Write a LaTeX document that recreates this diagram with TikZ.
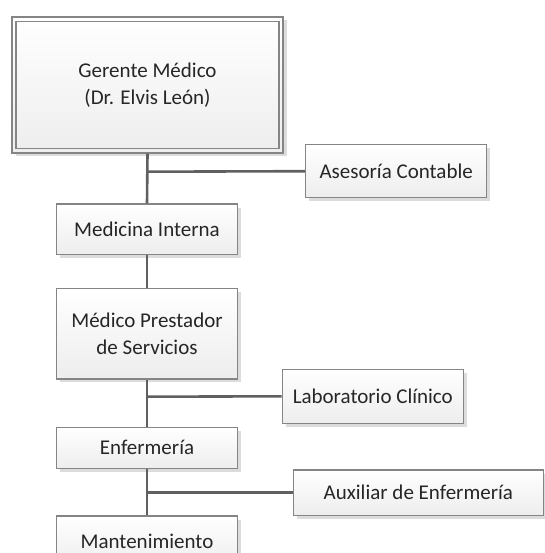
\documentclass[tikz,border=0pt]{standalone}
\usepackage{fontspec}
\setmainfont{Carlito}
\usetikzlibrary{shadows}
\definecolor{boxline}{HTML}{858585}
\definecolor{conn}{HTML}{606060}
\definecolor{shad}{HTML}{DCDCDC}
\begin{document}
\begin{tikzpicture}[x=1pt,y=-1pt,
  orgbox/.style={draw=boxline, line width=1.2pt, top color=white, bottom color=black!7,
    drop shadow={shadow xshift=3.5pt, shadow yshift=-3.5pt, fill=shad, opacity=1},
    align=center, inner sep=0pt, text=black!85,
    font=\fontsize{21}{27}\selectfont},
  conline/.style={draw=conn, line width=2.6pt}]
\useasboundingbox (0,0) rectangle (544,553);
% top box with double border
\node[orgbox, minimum width=271pt, minimum height=136pt] (ger) at (147.5,85) {};
\node[draw=boxline, line width=1.2pt, minimum width=263pt, minimum height=127pt, inner sep=0pt,
  align=center, text=black!85, font=\fontsize{21}{27}\selectfont] (gerin) at (147.5,85)
  {Gerente Médico\\(Dr. Elvis León)};
\node[orgbox, minimum width=181pt, minimum height=53pt] (ase) at (396.2,171.2) {Asesoría Contable};
\node[orgbox, minimum width=180.6pt, minimum height=50.3pt] (med) at (147,229.2) {Medicina Interna};
\node[orgbox, minimum width=180.6pt, minimum height=90.3pt] (pres) at (147,333.8) {Médico Prestador\\de Servicios};
\node[orgbox, minimum width=181pt, minimum height=54pt] (lab) at (372.8,396.3) {Laboratorio Clínico};
\node[orgbox, minimum width=180.6pt, minimum height=41pt] (enf) at (147,447.8) {Enfermería};
\node[orgbox, minimum width=250pt, minimum height=45.3pt] (aux) at (418.3,492.7) {Auxiliar de Enfermería};
\node[orgbox, minimum width=180.6pt, minimum height=50pt] (man) at (147,541) {Mantenimiento};
% connectors
\coordinate (j1) at (147,171.7);
\coordinate (j2) at (147,396.7);
\coordinate (j3) at (147,492.7);
\draw[conline] (ger.south) -- (med.north);
\draw[conline] (j1) -- (ase.west);
\draw[conline] (med.south) -- (pres.north);
\draw[conline] (pres.south) -- (enf.north);
\draw[conline] (j2) -- (lab.west);
\draw[conline] (enf.south) -- (man.north);
\draw[conline] (j3) -- (aux.west);
\end{tikzpicture}
\end{document}
